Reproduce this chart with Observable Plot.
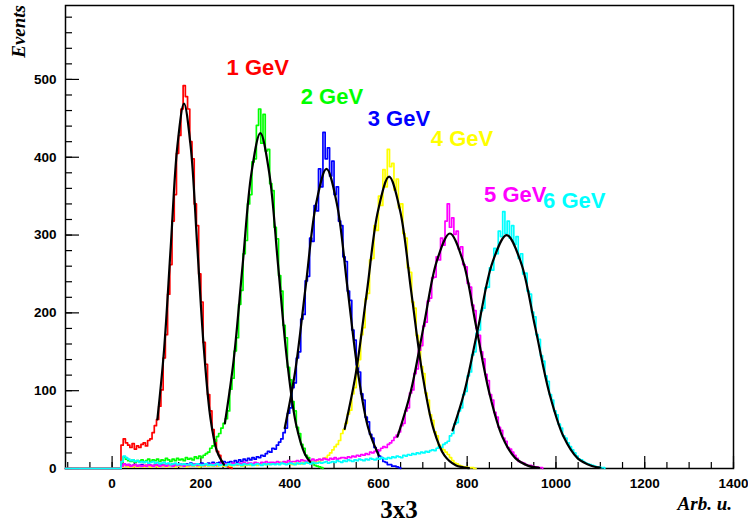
<!DOCTYPE html>
<html><head><meta charset="utf-8">
<script src="https://cdn.jsdelivr.net/npm/d3@7"></script>
<script src="https://cdn.jsdelivr.net/npm/@observablehq/plot@0.6"></script>
<style>body{margin:0;background:#fff}#chart{width:748px;height:527px}</style>
</head><body><div id="chart"></div>
<script>
// ---- data ----
const binStart = 20;      // left edge of first bin (Arb. u.)
const binWidth = 5;
const seriesNames = ["1 GeV", "2 GeV", "3 GeV", "4 GeV", "5 GeV", "6 GeV"];
const seriesColors = ["#ff0000", "#00ff00", "#0000ff", "#ffff00", "#ff00ff", "#00ffff"];

const counts1 = [30,38,33,30,27,32,25,29,27,31, 33,29,36,38,46,55,63,80,101,142, 172,224,262,318,352,405,428,462,492,478, 462,420,398,340,312,250,214,162,134,95, 74,50,37,22,17,9,6,4,2,1, 0];
const counts2 = [6,15,12,10,9,11,8,10,9,11, 8,10,12,9,11,10,12,9,11,10, 13,11,9,12,10,13,11,12,10,14, 12,13,11,15,13,16,14,17,19,21, 26,29,35,41,45,52,
  58,64,74,102,116,151,168,211,229,276, 293,340,352,394,398,441,462,418,455,408, 410,366,357,310,295,248,228,184,168,130, 114,86,74,53,45,31,26,17,14,9, 7,4,3,2,1,0];
const counts3 = [3,6,4,5,3,4,5,3,4,5, 3,4,5,4,3,5,4,6,4,5, 3,5,4,6,5,4,6,5,4,6, 5,7,5,6,4,6,7,5,6,7, 5,8,6,7,8,6,9,7,8,9, 7,10,8,11,9,12,10,13,11,14, 12,15,14,17,16,19,22,21,26,25, 30,34,38,46,
  52,71,78,104,110,142,150,192,198,241, 247,296,292,338,331,385,362,432,398,412, 376,395,352,362,318,312,272,266,228,216, 178,165,133,124,96,88,66,60,44,39, 27,24,16,14,9,8,5,5,3,3, 2,1,0];
const counts4 = [2,4,3,2,3,2,4,2,3,3, 2,4,3,2,3,4,2,3,3,4, 2,3,4,3,2,4,3,3,4,2, 3,4,3,4,3,2,4,3,4,3, 4,3,5,3,4,4,3,5,4,3, 5,4,4,5,3,5,4,5,4,6, 5,4,6,5,5,6,5,7,6,6, 7,6,8,7,8,7,
  6,5,7,6,7,6,8,7,8,8, 9,8,10,9,11,13,14,17,20,24, 28,
  31,36,45,50,58,70,75,96,104,131, 140,172,181,218,225,268,270,312,306,350, 338,384,362,410,388,392,358,372,335,340, 302,296,258,252,214,206,171,162,131,122, 97,88,69,62,47,42,30,26,24,21, 18,14,10,7,6,4,3,2,2,1, 1,1,0,0];
const counts5 = [3,6,4,5,3,4,5,3,4,3, 4,3,5,4,3,4,5,3,4,4, 3,5,4,3,5,4,4,5,3,5, 4,5,4,6,4,5,5,4,6,5, 5,6,4,6,5,7,5,6,6,5, 7,6,5,7,6,8,6,7,7,6, 8,7,6,8,7,9,7,8,8,7, 9,8,7,9,8,10,8,9,9,10, 9,11,10,9,11,10,12,10,11,12, 11,13,12,11,13,12,14,12,13,14, 14,13,15,14,16,15,17,16,18,17, 19,18,21,20,22,24,23,26,28,27, 31,33,36,40,
  43,47,55,58,74,78,97,101,122,128, 152,158,183,188,215,219,245,246,272,268, 296,287,318,340,310,322,301,305,282,285, 262,259,238,233,210,203,180,171,150,141, 121,113,95,88,72,66,53,49,39,35, 27,25,21,17,13,9,8,7,5,4, 4,3,2,2,1,1,0];
const counts6 = [9,16,14,12,10,11,9,10,8,9, 8,9,7,8,9,7,8,6,7,8, 6,7,5,6,7,5,6,5,6,5, 5,6,4,5,6,5,4,5,6,4, 5,4,5,6,4,5,5,4,6,5, 4,5,6,5,4,6,5,5,6,4, 5,6,5,4,6,5,6,5,6,5, 6,5,7,6,5,6,7,6,5,7, 6,7,6,8,7,6,8,7,7,8, 7,8,9,7,8,9,8,10,9,8, 10,9,11,10,9,11,10,12,11,10, 12,11,13,12,11,13,12,14,13,12, 14,13,15,14,16,15,14,17,16,18, 17,19,18,20,19,21,20,22,21,23, 24,23,26,28,27,31,33,
  35,42,45,57,59,74,78,95,99,119, 124,146,150,174,178,203,206,232,233,258, 255,283,276,305,298,330,302,318,296,312, 288,298,270,276,250,251,228,224,201,195, 172,166,145,138,119,112,95,88,74,69, 57,52,42,39,33,28,24,20,16,12, 11,9,7,6,5,4,3,2,2,1, 1,0];
const allCounts = [counts1, counts2, counts3, counts4, counts5, counts6];

// Gaussian fit curves
const fitX1 = [102,117,132,147,162,177,192,207,222,237,252];
const fitY1 = [63,152,284,414,469,414,284,152,63,21,5];
const fitX2 = [254,274,294,314,334,354,374,394,414,434,446];
const fitY2 = [58,140,261,380,431,380,261,140,58,19,8.5];
const fitX3 = [389,412.5,436,459.5,483,506.5,530,553.5,577,600.5];
const fitY3 = [52,125,233.5,340,385,340,233.5,125,52,17];
const fitX4 = [524,549,574,599,624,649,674,699,724,749,774,804];
const fitY4 = [51,122,227,331,375,331,227,122,51,16.5,4.2,0.6];
const fitX5 = [643,672.5,702,731.5,761,790.5,820,849.5,879,908.5,938,962];
const fitY5 = [41,98,183,266.5,302,266.5,183,98,41,13.3,3.4,0.9];
const fitX6 = [767,793,825,857,889,921,953,985,1017,1049,1081,1100];
const fitY6 = [49,97,182,265,300,265,182,97,41,13,3.3,1.3];
const fitXs = [fitX1, fitX2, fitX3, fitX4, fitX5, fitX6];
const fitYs = [fitY1, fitY2, fitY3, fitY4, fitY5, fitY6];

// label anchors (data coordinates)
const labelX = [258, 425, 576, 718, 838, 971];
const labelY = [506, 469, 440, 415, 342, 335];

const xMajorTicks = [0, 200, 400, 600, 800, 1000, 1200, 1400];
const xMinorTicks = d3.range(-100, 1401, 50);
const yMajorTicks = [0, 100, 200, 300, 400, 500];
const yMinorTicks = d3.range(0, 581, 20);
const xDomain = [-105, 1400];
const yDomain = [0, 595];

// ---- build ----
const histRows = allCounts.map(cs => {
  const r = [{x: xDomain[0], y: 0}];
  cs.forEach((c, j) => r.push({x: binStart + j * binWidth, y: c}));
  return r;
});
const fitRows = fitXs.map((xs, i) => xs.map((x, j) => ({x, y: fitYs[i][j]})));

const sans = "'Liberation Sans', Arial, Helvetica, sans-serif";
const tickFont = {fontFamily: sans, fontSize: 13.5, fontWeight: "bold", tickFormat: d => String(d)};

const svg = Plot.plot({
  width: 748, height: 527,
  marginLeft: 65, marginRight: 15, marginTop: 5, marginBottom: 59,
  x: {domain: xDomain},
  y: {domain: yDomain},
  style: {background: "#fff", color: "#000", fontFamily: sans, fontSize: "13.5px", fontWeight: "bold", overflow: "visible"},
  marks: [
    Plot.frame({stroke: "#000", strokeWidth: 1.5}),
    Plot.axisX(xMinorTicks, {tickSize: -6, tickFormat: () => "", label: null, strokeWidth: 1.2}),
    Plot.axisX(xMajorTicks, {tickSize: -12, tickFormat: () => "", label: null, strokeWidth: 1.2}),
    Plot.axisX(xMajorTicks, {tickSize: 0, tickPadding: 10, label: null, ...tickFont}),
    Plot.axisY(yMinorTicks, {tickSize: -7, tickFormat: () => "", label: null, strokeWidth: 1.2}),
    Plot.axisY(yMajorTicks, {tickSize: -14, tickFormat: () => "", label: null, strokeWidth: 1.2}),
    Plot.axisY(yMajorTicks, {tickSize: 0, tickPadding: 9, label: null, ...tickFont}),
    ...histRows.map((r, i) => Plot.line(r, {x: "x", y: "y", curve: "step-after", stroke: seriesColors[i], strokeWidth: 1.7})),
    ...fitRows.map(r => Plot.line(r, {x: "x", y: "y", curve: "catmull-rom", stroke: "#000", strokeWidth: 2.2})),
    ...seriesNames.map((name, i) => Plot.text([name], {
      x: () => labelX[i], y: () => labelY[i], text: d => d,
      fill: seriesColors[i], textAnchor: "start", lineAnchor: "bottom",
      fontFamily: sans, fontSize: 22, fontWeight: "bold"
    }))
  ]
});

const s = d3.select(svg);
s.append("text").attr("x", 732).attr("y", 510).attr("text-anchor", "end")
  .style("font-family", "'Liberation Serif', 'Times New Roman', serif").style("font-size", "19px")
  .style("font-weight", "bold").style("font-style", "italic").attr("fill", "#000").text("Arb. u.");
s.append("text").attr("x", 399).attr("y", 518).attr("text-anchor", "middle")
  .style("font-family", "'Liberation Serif', 'Times New Roman', serif").style("font-size", "25px")
  .style("font-weight", "bold").attr("fill", "#000").text("3x3");
s.append("text").attr("transform", "translate(24.5,5) rotate(-90)").attr("text-anchor", "end")
  .style("font-family", "'Liberation Serif', 'Times New Roman', serif").style("font-size", "19px")
  .style("font-weight", "bold").style("font-style", "italic").attr("fill", "#000").text("Events");

document.getElementById("chart").appendChild(svg);
</script></body></html>
